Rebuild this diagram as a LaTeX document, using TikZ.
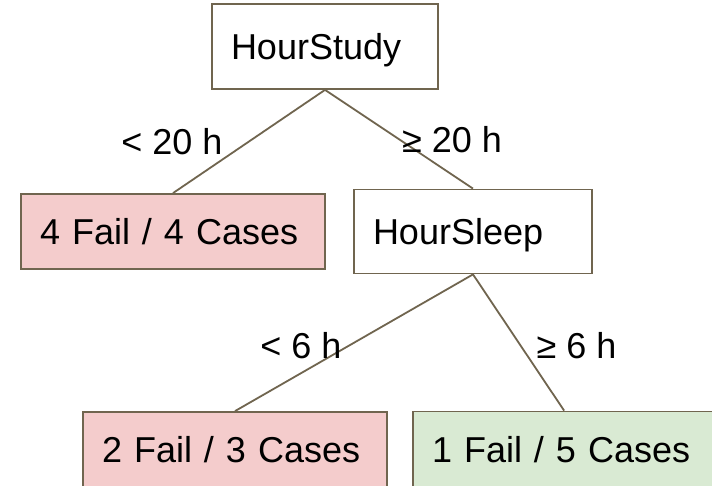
\documentclass[tikz,border=0pt]{standalone}
\usepackage{fontspec}
\setmainfont{Liberation Sans}
\usetikzlibrary{positioning}
\definecolor{border}{HTML}{70654F}
\definecolor{failred}{HTML}{F4CCCC}
\definecolor{passgreen}{HTML}{D9EAD3}
\tikzstyle{block} = [rectangle, draw=border, line width=0.9pt, align=left, inner xsep=9.5pt, inner ysep=0pt, text depth=0pt, font=\fontsize{18}{21.6}\selectfont]
\tikzstyle{fail} = [block, fill=failred, text width=133pt, minimum height=37.5pt]
\tikzstyle{pass} = [block, fill=passgreen, text width=147pt, minimum height=38pt]
\tikzstyle{line} = [draw=border, line width=0.9pt]
\tikzstyle{cond} = [font=\fontsize{18}{21.6}\selectfont, inner sep=0pt]

\begin{document}
\begin{tikzpicture}[node distance=92.5pt]

\path[use as bounding box, fill=white] (0,0) rectangle (356pt,-243pt);

\node[block, text width=94pt, minimum height=42.5pt] (study) at (162.5pt,-23.25pt) {HourStudy};
\node[fail, below of=study, xshift=-76pt] (fail4) {4 Fail / 4 Cases};
\path [line] (study.south) -- node[cond, xshift=-38.5pt] (lt20) {< 20 h} (fail4.north);
\node[block, text width=100pt, minimum height=42pt, right of=fail4, node distance=150pt] (sleep) {HourSleep};
\path [line] (study.south) -- node[cond, xshift=26.5pt] (ge20) {≥ 20 h} (sleep.north);
\node[fail, below of=sleep, node distance=109pt, xshift=-119pt] (fail2) {2 Fail / 3 Cases};
\path [line] (sleep.south) -- node[cond, xshift=-26.5pt, yshift=-1.5pt] (lt6) {< 6 h} (fail2.north);
\node[pass, right of=fail2, node distance=172pt] (fail1) {1 Fail / 5 Cases};
\path [line] (sleep.south) -- node[cond, xshift=29pt, yshift=-1.5pt] (ge6) {≥ 6 h} ([xshift=76pt]fail1.north west);

\end{tikzpicture}
\end{document}
